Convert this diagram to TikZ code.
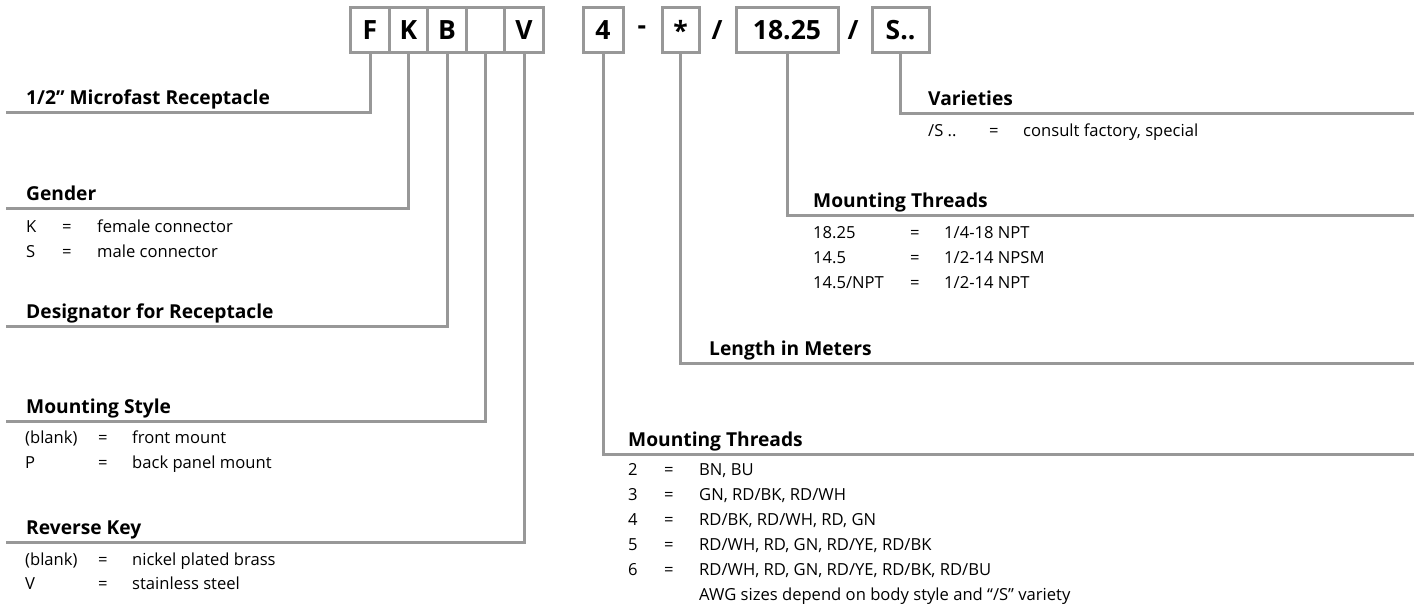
\documentclass[tikz,border=0pt]{standalone}
\usepackage{fontspec}
\setmainfont{Open Sans}
\definecolor{lgray}{RGB}{152,152,152}
\tikzset{
  codebox/.style={draw=lgray, line width=3pt, minimum height=45pt, inner sep=0pt,
    font=\fontsize{26.5}{26.5}\selectfont\bfseries},
  sepch/.style={inner sep=0pt, font=\fontsize{26.5}{26.5}\selectfont\bfseries},
  leader/.style={draw=lgray, line width=3pt, line join=miter},
  hd/.style={anchor=base west, inner sep=0pt, font=\fontsize{19.2}{19.2}\selectfont\bfseries},
  tx/.style={anchor=base west, inner sep=0pt, font=\fontsize{16.6}{16.6}\selectfont},
}
\begin{document}
\begin{tikzpicture}[x=1pt,y=-1pt]
\useasboundingbox (0,0) rectangle (1420,607);
% code boxes
\node[codebox, minimum width=38.5pt] (bF) at (370,30) {F};
\node[codebox, minimum width=38.5pt] (bK) at (408.5,30) {K};
\node[codebox, minimum width=38.5pt] (bB) at (447,30) {B};
\node[codebox, minimum width=38.5pt] (bX) at (485.5,30) {};
\node[codebox, minimum width=38.5pt] (bV) at (524,30) {V};
\node[codebox, minimum width=40pt] (b4) at (603,30) {4};
\node[sepch] (s1) at (642,30) {-};
\node[codebox, minimum width=37pt] (bS) at (680.5,30) {*};
\node[sepch] (s2) at (717,30) {/};
\node[codebox, minimum width=102pt] (bT) at (787,30) {18.25};
\node[sepch] (s3) at (853,30) {/};
\node[codebox, minimum width=57pt] (bV2) at (900.5,30) {S..};
% leader end points
\coordinate (eF) at (6,113);
\coordinate (eK) at (6,208);
\coordinate (eB) at (6,326);
\coordinate (eX) at (6,421);
\coordinate (eV) at (6,542);
\coordinate (e4) at (1414,454);
\coordinate (eS) at (1414,363);
\coordinate (eT) at (1414,215);
\coordinate (eV2) at (1414,114);
\draw[leader] (bF.south) |- (eF);
\draw[leader] (bK.south) |- (eK);
\draw[leader] (bB.south) |- (eB);
\draw[leader] (bX.south) |- (eX);
\draw[leader] (bV.south) |- (eV);
\draw[leader] (b4.south) |- (e4);
\draw[leader] (bS.south) |- (eS);
\draw[leader] (bT.south) |- (eT);
\draw[leader] (bV2.south) |- (eV2);
% left headings
\node[hd] (hF) at (26,105) {1/2” Microfast Receptacle};
\node[hd] (hK) at (26,200) {Gender};
\node[tx] (k1a) at (26,232) {K};
\node[tx] (k1b) at (62,232) {=};
\node[tx] (k1c) at (97,232) {female connector};
\node[tx] (k2a) at (26,257) {S};
\node[tx] (k2b) at (62,257) {=};
\node[tx] (k2c) at (97,257) {male connector};
\node[hd] (hB) at (26,318) {Designator for Receptacle};
\node[hd] (hX) at (26,413) {Mounting Style};
\node[tx] (m1a) at (25,443) {(blank)};
\node[tx] (m1b) at (98,443) {=};
\node[tx] (m1c) at (132,443) {front mount};
\node[tx] (m2a) at (25,468) {P};
\node[tx] (m2b) at (98,468) {=};
\node[tx] (m2c) at (132,468) {back panel mount};
\node[hd] (hV) at (26,534) {Reverse Key};
\node[tx] (r1a) at (25,565) {(blank)};
\node[tx] (r1b) at (98,565) {=};
\node[tx] (r1c) at (132,565) {nickel plated brass};
\node[tx] (r2a) at (25,589) {V};
\node[tx] (r2b) at (98,589) {=};
\node[tx] (r2c) at (132,589) {stainless steel};
% right headings
\node[hd] (hV2) at (928,106) {Varieties};
\node[tx] (v1a) at (928,136) {/S ..};
\node[tx] (v1b) at (989,136) {=};
\node[tx] (v1c) at (1023,136) {consult factory, special};
\node[hd] (hT) at (813,207) {Mounting Threads};
\node[tx] (t1a) at (813,238) {18.25};
\node[tx] (t1b) at (910,238) {=};
\node[tx] (t1c) at (944,238) {1/4-18 NPT};
\node[tx] (t2a) at (813,263) {14.5};
\node[tx] (t2b) at (910,263) {=};
\node[tx] (t2c) at (944,263) {1/2-14 NPSM};
\node[tx] (t3a) at (813,288) {14.5/NPT};
\node[tx] (t3b) at (910,288) {=};
\node[tx] (t3c) at (944,288) {1/2-14 NPT};
\node[hd] (hS) at (709,355) {Length in Meters};
\node[hd] (h4) at (628,446) {Mounting Threads};
\node[tx] (p1a) at (628,475) {2};
\node[tx] (p1b) at (664,475) {=};
\node[tx] (p1c) at (699,475) {BN, BU};
\node[tx] (p2a) at (628,500) {3};
\node[tx] (p2b) at (664,500) {=};
\node[tx] (p2c) at (699,500) {GN, RD/BK, RD/WH};
\node[tx] (p3a) at (628,525) {4};
\node[tx] (p3b) at (664,525) {=};
\node[tx] (p3c) at (699,525) {RD/BK, RD/WH, RD, GN};
\node[tx] (p4a) at (628,550) {5};
\node[tx] (p4b) at (664,550) {=};
\node[tx] (p4c) at (699,550) {RD/WH, RD, GN, RD/YE, RD/BK};
\node[tx] (p5a) at (628,575) {6};
\node[tx] (p5b) at (664,575) {=};
\node[tx] (p5c) at (699,575) {RD/WH, RD, GN, RD/YE, RD/BK, RD/BU};
\node[tx] (p6c) at (699,600) {AWG sizes depend on body style and “/S” variety};
\end{tikzpicture}
\end{document}
